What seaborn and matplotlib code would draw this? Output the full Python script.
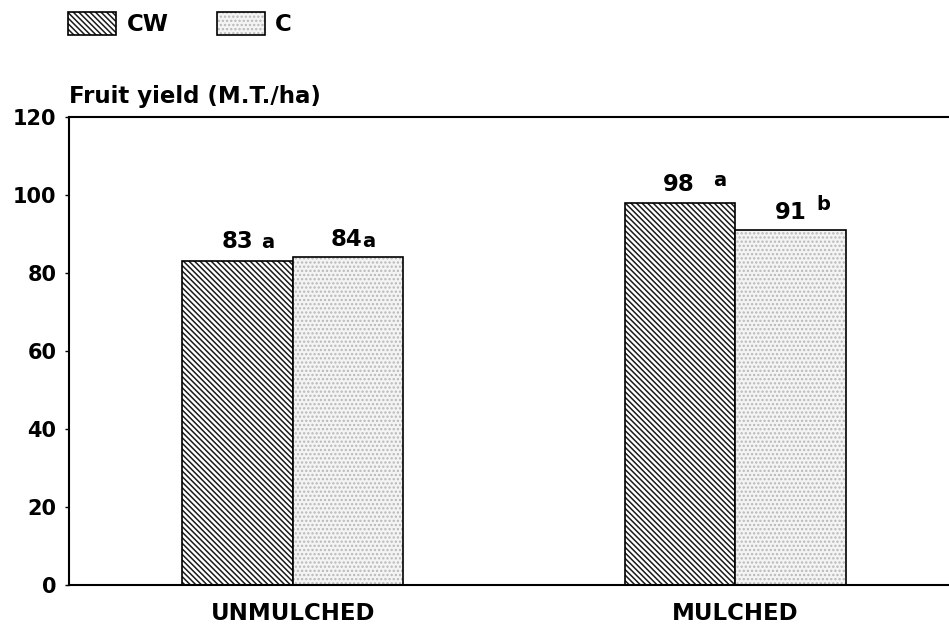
import pandas as pd
import matplotlib.pyplot as plt
import seaborn as sns
from matplotlib.patches import Patch

# data
treatments = ['UNMULCHED', 'MULCHED']
cw_yield = [83, 98]
c_yield = [84, 91]
cw_letters = ['a', 'a']
c_letters = ['a', 'b']
series_names = ['CW', 'C']

df = pd.DataFrame({
    'treatment': treatments * 2,
    'yield': cw_yield + c_yield,
    'series': [series_names[0]] * 2 + [series_names[1]] * 2,
})

sns.set_style('white')
plt.rcParams['font.family'] = ['DejaVu Sans']
plt.rcParams['font.weight'] = 'bold'
plt.rcParams['hatch.linewidth'] = 1.1
for k in ['text.color', 'axes.labelcolor', 'xtick.color', 'ytick.color']:
    plt.rcParams[k] = 'black'

fig = plt.figure(figsize = (9.49, 6.27), dpi = 100)
ax = fig.add_axes([69 / 949, 1 - 585 / 627, 1 - 69 / 949, (585 - 117) / 627])

sns.barplot(data = df, x = 'treatment', y = 'yield', hue = 'series', order = treatments,
            hue_order = series_names, width = 0.5, gap = 0, legend = False,
            palette = ['white', '#f4f4f4'], edgecolor = 'black', linewidth = 1.2,
            saturation = 1, ax = ax)

# hatch styles: diagonal lines for CW, fine dots for C
hatches = ['\\' * 6, '....']
hatch_cols = [(0.1, 0.1, 0.1, 1), (0.72, 0.72, 0.72, 1)]
for cont, h, hc in zip(ax.containers, hatches, hatch_cols):
    for p in cont:
        p.set_hatch(h)
        p._hatch_color = hc

# value labels with significance letters (offsets in pixels: num dx, num dy, letter dx, letter dy)
letters = [cw_letters, c_letters]
offsets = [
    [(0, 13, 30, 13), (-1, 12, 40, 17)],
    [(-2, 11, 21, 10), (0, 11, 33, 20)],
]
for cont, lets, offs in zip(ax.containers, letters, offsets):
    for p, let, (ndx, ndy, ldx, ldy) in zip(cont, lets, offs):
        xc = p.get_x() + p.get_width() / 2
        h = p.get_height()
        ax.annotate(f'{h:.0f}', xy = (xc, h), xytext = (ndx, ndy), textcoords = 'offset pixels',
                    ha = 'center', va = 'baseline', fontsize = 16.5, fontweight = 'bold')
        ax.annotate(let, xy = (xc, h), xytext = (ldx, ldy), textcoords = 'offset pixels',
                    ha = 'center', va = 'baseline', fontsize = 14, fontweight = 'bold')

ax.set_xlim(-0.506, 1.483)
ax.set_ylim(0, 120)
ax.set_yticks([0, 20, 40, 60, 80, 100, 120])
ax.set_xlabel('')
ax.set_ylabel('Fruit yield (M.T./ha)', rotation = 0, ha = 'left', va = 'baseline',
              fontsize = 16.5, fontweight = 'bold')
ax.yaxis.set_label_coords(0, 1.03)

for s in ['left', 'bottom', 'top']:
    ax.spines[s].set_linewidth(1.5)
    ax.spines[s].set_color('black')
ax.spines['right'].set_visible(False)

ax.tick_params(axis = 'y', left = True, length = 3, width = 1, pad = 6, labelsize = 15)
ax.tick_params(axis = 'x', bottom = False, length = 0, pad = 12, labelsize = 16.5)
for lab in ax.get_xticklabels() + ax.get_yticklabels():
    lab.set_fontweight('bold')

# legend at the top left
handles = [
    Patch(facecolor = 'white', edgecolor = 'black', hatch = hatches[0], linewidth = 1.2),
    Patch(facecolor = '#f4f4f4', edgecolor = 'black', hatch = hatches[1], linewidth = 1.2),
]
leg = fig.legend(handles, series_names, loc = 'upper left', bbox_to_anchor = (68 / 949, 1 - 12 / 627),
                 ncol = 2, frameon = False, borderpad = 0, borderaxespad = 0,
                 handlelength = 2.1, handleheight = 1.2, handletextpad = 0.45,
                 columnspacing = 2.1, prop = {'size': 16.5, 'weight': 'bold'})
for lh, hc in zip(leg.legend_handles, hatch_cols):
    lh._hatch_color = hc

fig.savefig('out.png', dpi = 100)
